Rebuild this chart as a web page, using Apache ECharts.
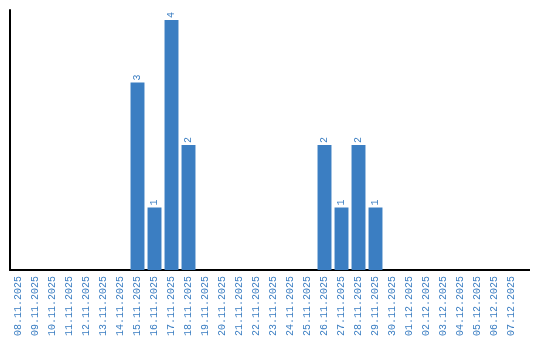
<!DOCTYPE html>
<html><head><meta charset="utf-8">
<script src="https://cdn.jsdelivr.net/npm/echarts@6/dist/echarts.min.js"></script>
<style>html,body{margin:0;padding:0;background:#fff}#c{width:540px;height:340px}</style>
</head><body><div id="c"></div>
<script>
const categories = ["08.11.2025","09.11.2025","10.11.2025","11.11.2025","12.11.2025","13.11.2025","14.11.2025","15.11.2025","16.11.2025","17.11.2025","18.11.2025","19.11.2025","20.11.2025","21.11.2025","22.11.2025","23.11.2025","24.11.2025","25.11.2025","26.11.2025","27.11.2025","28.11.2025","29.11.2025","30.11.2025","01.12.2025","02.12.2025","03.12.2025","04.12.2025","05.12.2025","06.12.2025","07.12.2025"];
const counts = [0,0,0,0,0,0,0,3,1,4,2,0,0,0,0,0,0,0,2,1,2,1,0,0,0,0,0,0,0,0];
const blue = '#3b7ec2';
const chart = echarts.init(document.getElementById('c'), null, {renderer:'canvas'});
chart.setOption({
  animation:false,
  grid:{left:10, top:10, width:510, height:260, containLabel:false},
  xAxis:{type:'category', data:categories,
    axisLine:{lineStyle:{color:'#000', width:2}}, axisTick:{show:false},
    axisLabel:{rotate:90, interval:0, color:blue, fontFamily:'Liberation Mono', fontSize:10, margin:6}},
  yAxis:{type:'value', min:0, max:4.16, axisLine:{show:true, lineStyle:{color:'#000', width:2}},
    axisLabel:{show:false}, axisTick:{show:false}, splitLine:{show:false}},
  series:[{type:'bar', data:counts, barCategoryGap:'18%', itemStyle:{color:blue},
    label:{show:true, position:'top', rotate:90, distance:2, color:blue, fontFamily:'Liberation Mono', fontSize:10,
      align:'left', verticalAlign:'middle',
      formatter:p=>p.value>0?String(p.value):''}}],
  graphic:[{type:'line', shape:{x1:519, y1:270, x2:530, y2:270}, style:{stroke:'#000', lineWidth:2}}]
});
</script></body></html>
